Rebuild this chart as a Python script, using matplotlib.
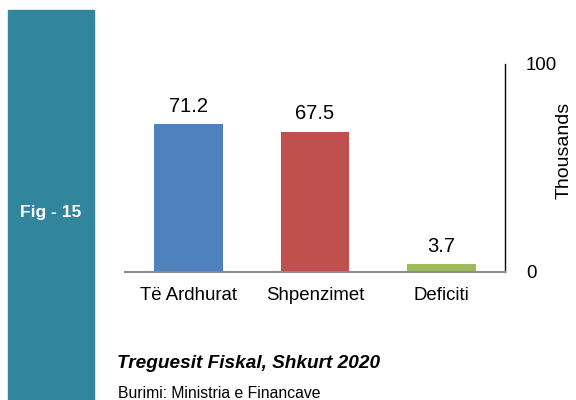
import matplotlib
matplotlib.use("Agg")
import matplotlib.pyplot as plt
from matplotlib.patches import Rectangle

categories = ["Të Ardhurat", "Shpenzimet", "Deficiti"]
values = [71.2, 67.5, 3.7]
value_labels = ["71.2", "67.5", "3.7"]
colors = ["#4F81BD", "#C0504D", "#9BBB59"]
yticks = [0, 100]

plt.rcParams['font.family'] = ['Liberation Sans', 'DejaVu Sans']

W, H = 576, 400
fig = plt.figure(figsize=(5.76, 4.0), dpi=100)

# teal side band
fig.patches.append(Rectangle((8 / W, 0), 86 / W, 1 - 10 / H, transform=fig.transFigure,
                             color="#31859C", zorder=0))
fig.text(51 / W, 1 - 213 / H, "Fig - 15", color="white", fontsize=12.5, fontweight="bold",
         ha="center", va="center")

ax = fig.add_axes([125 / W, 1 - 272 / H, 380 / W, 208 / H])
x = range(len(categories))
ax.bar(x, values, width=0.54, color=colors)
for i, (v, lab) in enumerate(zip(values, value_labels)):
    ax.text(i, v + 4, lab, ha="center", va="bottom", fontsize=14.5)

ax.set_xlim(-0.5, 2.5)
ax.set_ylim(0, 100)
ax.set_xticks(list(x))
ax.set_xticklabels(categories, fontsize=13.4)
ax.tick_params(axis="x", length=0, pad=11)
ax.yaxis.tick_right()
ax.set_yticks(yticks)
ax.set_yticklabels([str(t) for t in yticks], fontsize=13.4)
ax.tick_params(axis="y", length=0, pad=15)
for s in ["top", "left"]:
    ax.spines[s].set_visible(False)
ax.spines["bottom"].set_color("#8C8C8C")
ax.spines["bottom"].set_linewidth(1.5)
ax.spines["right"].set_color("black")
ax.spines["right"].set_linewidth(1.0)

fig.text(564 / W, 1 - 150 / H, "Thousands", fontsize=14, rotation=90,
         ha="center", va="center")

fig.text(117 / W, 1 - 364 / H, "Treguesit Fiskal, Shkurt 2020", fontsize=13.7,
         fontweight="bold", fontstyle="italic", ha="left", va="center")
fig.text(118 / W, 1 - 393 / H, "Burimi: Ministria e Financave", fontsize=11.3,
         ha="left", va="center")

fig.savefig("out.png", dpi=100)
